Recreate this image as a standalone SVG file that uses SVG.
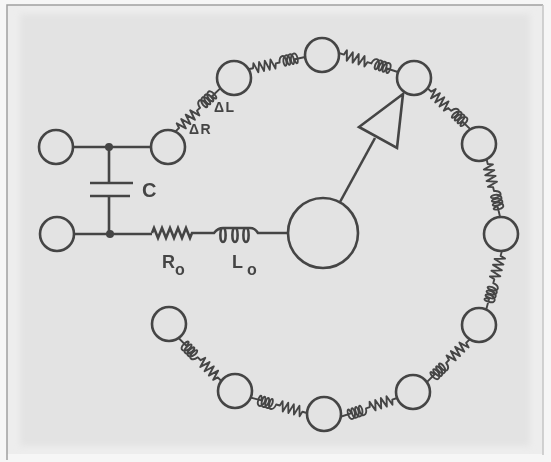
<svg xmlns="http://www.w3.org/2000/svg" xmlns:xlink="http://www.w3.org/1999/xlink" width="551" height="462" viewBox="0 0 551 462">
<style>
.w{fill:none;stroke:#454545;stroke-width:2.6}
.n{fill:none;stroke:#454545;stroke-width:2.6}
.s{fill:none;stroke:#454545;stroke-width:1.9;stroke-linejoin:round}
.t{font-family:"Liberation Sans",Arial,sans-serif;fill:#454545;font-weight:bold}
</style>
<defs>
<filter id="soft" x="-2%" y="-2%" width="104%" height="104%"><feGaussianBlur stdDeviation="0.45"/></filter>
<filter id="wide" x="-5%" y="-5%" width="110%" height="110%"><feGaussianBlur stdDeviation="3"/></filter>
<path id="rl" d="M0 0H5l1.500-5 3 10 3-10 3 10 3-10 3 10 3-10 3 10 1.500-5H33c1-7 7-8 7-1 0 7-3 7-3 1 1-7 7-8 7-1 0 7-3 7-3 1 1-7 7-8 7-1 0 7-3 7-3 1 1-7 7-8 7-1 0 7-3 7-3 1H60"/>
</defs>
<rect width="551" height="462" fill="#f6f6f6"/>
<rect x="7" y="5" width="536" height="449" fill="#ededed"/>
<rect x="20" y="14" width="510" height="432" fill="#e3e3e3" filter="url(#wide)"/>
<path d="M7 460V5H543" fill="none" stroke="#a0a0a0" stroke-width="1.500"/>
<path d="M543 5V455" fill="none" stroke="#c4c4c4" stroke-width="1.500"/>
<g filter="url(#soft)">
<g id="connectors">
<path class="w" d="M73 147H151M109 147V183M90 183H133M90 196H130M109 196V234M74 234H152"/>
<path class="w" d="M152 233l2-5 4 10 4-10 4 10 4-10 4 10 4-10 4 10 4-10 4 10 2-5H214Q218 228 223 228c-3.500 0-3.500 14 0 14 3.500 0 3.500-14 0-14H235c-3.500 0-3.500 14 0 14 3.500 0 3.500-14 0-14H246c-3.500 0-3.500 14 0 14 3.500 0 3.500-14 0-14H250Q255 228 258 233H288"/>
<circle cx="109" cy="147" r="4" fill="#454545"/>
<circle cx="110" cy="234" r="4" fill="#454545"/>
<use xlink:href="#rl" href="#rl" class="s" transform="translate(175.300 131.600) rotate(-43.900) scale(1.04 1)"/>
<use xlink:href="#rl" href="#rl" class="s" transform="translate(248.300 69.300) rotate(-12.200) scale(.97 1)"/>
<use xlink:href="#rl" href="#rl" class="s" transform="translate(339 53) rotate(17.900) scale(1.03 1)"/>
<use xlink:href="#rl" href="#rl" class="s" transform="translate(427.600 88.200) rotate(43.800) scale(.99 1)"/>
<use xlink:href="#rl" href="#rl" class="s" transform="translate(486.600 159.200) rotate(76.900) scale(.99 1)"/>
<use xlink:href="#rl" href="#rl" class="s" transform="translate(501.900 251) rotate(105) scale(1.01 1)"/>
<use xlink:href="#rl" href="#rl" class="s" transform="translate(469.700 339.300) rotate(135) scale(1.01 1)"/>
<use xlink:href="#rl" href="#rl" class="s" transform="translate(397 398) rotate(161.600) scale(.99 1)"/>
<use xlink:href="#rl" href="#rl" class="s" transform="translate(307 413) rotate(195.400) scale(.97 1)"/>
<use xlink:href="#rl" href="#rl" class="s" transform="translate(221.300 381) rotate(225.200) scale(1.01 1)"/>
<path class="n" d="M340 202L375 138"/>
</g>
<g id="pointer"><path class="n" d="M403 94L359 127L397 148Z"/></g>
<g id="n1"><circle class="n" cx="56" cy="147" r="17"/></g>
<g id="n2"><circle class="n" cx="57" cy="234" r="17"/></g>
<g id="n3"><circle class="n" cx="168" cy="147" r="17"/></g>
<g id="n4"><circle class="n" cx="234" cy="78" r="17"/></g>
<g id="n5"><circle class="n" cx="322" cy="55" r="17"/></g>
<g id="n6"><circle class="n" cx="414" cy="78" r="17"/></g>
<g id="n7"><circle class="n" cx="479" cy="144" r="17"/></g>
<g id="n8"><circle class="n" cx="501" cy="234" r="17"/></g>
<g id="n9"><circle class="n" cx="479" cy="325" r="17"/></g>
<g id="n10"><circle class="n" cx="413" cy="392" r="17"/></g>
<g id="n11"><circle class="n" cx="324" cy="414" r="17"/></g>
<g id="n12"><circle class="n" cx="235" cy="391" r="17"/></g>
<g id="n13"><circle class="n" cx="169" cy="324" r="17"/></g>
<g id="hub"><circle class="n" cx="323" cy="233" r="35"/></g>
<text class="t" x="142" y="197" font-size="20">C</text>
<text class="t" x="214" y="112" font-size="14" letter-spacing="1.500">ΔL</text>
<text class="t" x="189" y="134" font-size="14" letter-spacing="1.500">ΔR</text>
<text class="t" x="162" y="268" font-size="18" font-weight="normal">R<tspan dy="7" font-size="16">o</tspan></text>
<text class="t" x="232" y="268" font-size="18" font-weight="normal">L<tspan dx="4" dy="7" font-size="16">o</tspan></text>
</g>
</svg>
